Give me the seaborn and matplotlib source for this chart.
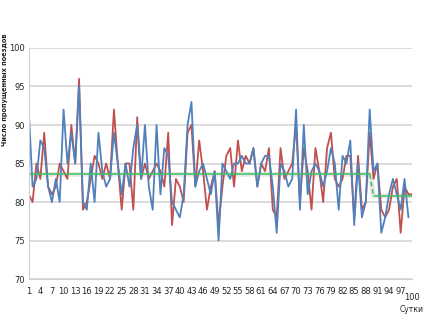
import matplotlib
matplotlib.use("Agg")
import matplotlib.pyplot as plt
import matplotlib.transforms as mtransforms
import numpy as np
import pandas as pd
import seaborn as sns

# values
red_vals = [81, 80, 85, 83, 89, 82, 81, 82, 85, 84,
            83, 90, 85, 96, 79, 80, 83, 86, 85, 83,
            85, 83, 92, 85, 79, 85, 85, 79, 91, 83,
            85, 83, 84, 85, 84, 82, 89, 77, 83, 82,
            80, 89, 90, 82, 88, 84, 79, 82, 84, 77,
            82, 86, 87, 82, 88, 84, 86, 85, 87, 82,
            85, 84, 87, 79, 78, 87, 83, 84, 85, 90,
            80, 87, 84, 79, 87, 84, 80, 87, 89, 83,
            82, 83, 86, 86, 78, 86, 79, 80, 89, 83,
            85, 79, 78, 79, 82, 83, 76, 82, 81, 81]
blue_vals = [92, 82, 83, 88, 87, 82, 80, 83, 80, 92,
             85, 89, 85, 95, 80, 79, 85, 80, 89, 84,
             82, 83, 89, 85, 81, 85, 82, 87, 90, 83,
             90, 82, 79, 90, 81, 87, 86, 80, 79, 78,
             81, 90, 93, 82, 84, 85, 83, 81, 84, 75,
             85, 84, 83, 85, 85, 86, 85, 85, 87, 82,
             85, 86, 86, 82, 76, 85, 84, 82, 83, 92,
             79, 90, 81, 84, 85, 84, 82, 84, 87, 85,
             79, 86, 85, 88, 77, 85, 78, 80, 92, 84,
             85, 76, 78, 81, 83, 81, 79, 83, 78]
mean_before = 83.6   # days 1..89
mean_after = 80.8    # days 90..100
split_day = 89

days_red = np.arange(1, len(red_vals) + 1)
days_blue = np.arange(1, len(blue_vals) + 1)
df_red = pd.DataFrame({"day": days_red, "val": red_vals})
df_blue = pd.DataFrame({"day": days_blue, "val": blue_vals})

green_days = np.arange(1, 101)
green_vals = np.where(green_days <= split_day, mean_before, mean_after)
df_green = pd.DataFrame({"day": green_days, "val": green_vals})
g1 = df_green[df_green.day <= split_day]
g2 = df_green[df_green.day >= split_day + 1]
g_step = df_green[(df_green.day >= split_day) & (df_green.day <= split_day + 1)]

sns.set_style("white")
plt.rcParams['font.family'] = ['DejaVu Sans']

fig = plt.figure(figsize=(4.24, 3.23), dpi=100)
ax = fig.add_axes([0.0677, 0.1362, 0.9047, 0.7152])

# light shadow under the mean line
sns.lineplot(data=df_green, x="day", y="val", ax=ax, color="#e6e6e6", lw=3.5)
sns.lineplot(data=df_red, x="day", y="val", ax=ax, color="#C0504D", lw=1.3)
sns.lineplot(data=df_blue, x="day", y="val", ax=ax, color="#4F81BD", lw=1.3)
sns.lineplot(data=g1, x="day", y="val", ax=ax, color="#3CC462", lw=1.1)
sns.lineplot(data=g2, x="day", y="val", ax=ax, color="#3CC462", lw=1.1)
sns.lineplot(data=g_step, x="day", y="val", ax=ax, color="#3CC462", lw=1.1,
             linestyle=(0, (3, 2)))

ax.set_xlim(1, 100)
ax.set_ylim(70, 100)
ax.set_yticks(np.arange(70, 101, 5))
ax.yaxis.grid(True, color="#d9d9d9", lw=1.3)
ax.set_axisbelow(True)

ax.set_xticks(np.arange(1, 98, 3))
ax.set_xticklabels([str(d) for d in range(1, 98, 3)])
ax.set_xticks(np.arange(1, 101), minor=True)
ax.tick_params(axis="x", which="both", direction="inout", length=3,
               color="#b0b0b0", width=0.6, labelsize=6, pad=4)
ax.tick_params(axis="y", length=0, labelsize=6, pad=3)

for s in ["top", "right"]:
    ax.spines[s].set_visible(False)
for s in ["left", "bottom"]:
    ax.spines[s].set_color("#d0d0d0")
    ax.spines[s].set_linewidth(0.8)

ax.set_xlabel("")
ax.set_ylabel("")

trans = mtransforms.blended_transform_factory(ax.transData, fig.transFigure)
ax.text(100, 1 - 297 / 323, "100", transform=trans, fontsize=6,
        ha="center", va="center")
fig.text(412 / 424, 1 - 310 / 323, "Сутки", fontsize=5.5,
         ha="center", va="center")
fig.text(5.5 / 424, 1 - 33 / 323, "Число пропущенных поездов", fontsize=4.8,
         rotation=90, ha="center", va="top", fontweight="bold")

fig.savefig("out.png", dpi=100)
